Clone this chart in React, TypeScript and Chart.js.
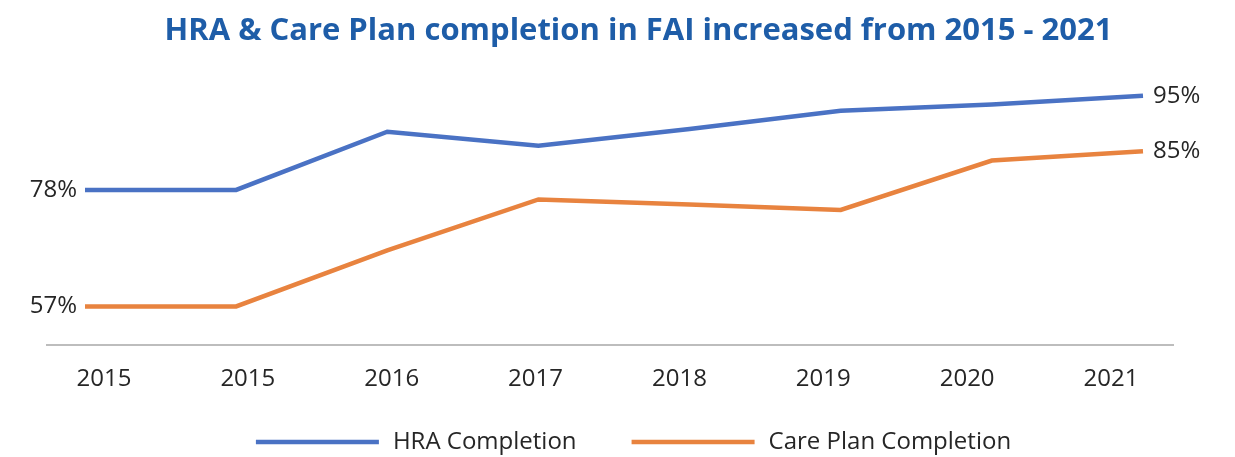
import React, { useEffect, useRef } from "react";
import { Chart, registerables } from "chart.js";

Chart.register(...registerables);

// ---- data ----
const categories = ["2015", "2015", "2016", "2017", "2018", "2019", "2020", "2021"];
const hraCompletion = [78, 78, 88.5, 86, 89, 92.3, 93.4, 95];
const carePlanCompletion = [57, 57, 67.1, 76.3, 75.4, 74.4, 83.3, 85];
const seriesNames = ["HRA Completion", "Care Plan Completion"];
const labeledIndexes = [0, 7];
const titleText = "HRA & Care Plan completion in FAI increased from 2015 - 2021";

const FONT = "'Open Sans', 'Noto Sans', sans-serif";
const TEXT_COLOR = "#262626";

const titlePlugin = {
  id: "chartHeading",
  afterDraw(chart: any) {
    const ctx = chart.ctx;
    ctx.save();
    ctx.font = `bold 31px ${FONT}`;
    ctx.fillStyle = "#1E5DA8";
    ctx.textAlign = "center";
    ctx.textBaseline = "middle";
    ctx.fillText(titleText, chart.width / 2 + 21, 31);
    ctx.restore();
  },
};

const dataLabelPlugin = {
  id: "endLabels",
  afterDatasetsDraw(chart: any) {
    const ctx = chart.ctx;
    ctx.save();
    ctx.font = `24px ${FONT}`;
    ctx.fillStyle = TEXT_COLOR;
    ctx.textBaseline = "middle";
    chart.data.datasets.forEach((ds: any, di: number) => {
      const meta = chart.getDatasetMeta(di);
      labeledIndexes.forEach((i) => {
        const pt = meta.data[i];
        if (!pt) return;
        const v = ds.data[i].y;
        const text = `${Math.round(v)}%`;
        if (i === 0) {
          ctx.textAlign = "right";
          ctx.fillText(text, pt.x - 8, pt.y);
        } else {
          ctx.textAlign = "left";
          ctx.fillText(text, pt.x + 10, pt.y);
        }
      });
    });
    ctx.restore();
  },
};

const legendPlugin = {
  id: "bottomLegend",
  afterDraw(chart: any) {
    const ctx = chart.ctx;
    ctx.save();
    ctx.font = `24px ${FONT}`;
    ctx.textBaseline = "middle";
    ctx.textAlign = "left";
    const lineW = 123;
    const gapText = 14;
    const gapItem = 55;
    const items = chart.data.datasets.map((ds: any) => ({
      text: ds.label,
      color: ds.borderColor,
      width: ds.borderWidth,
    }));
    const widths = items.map((it: any) => lineW + gapText + ctx.measureText(it.text).width);
    const total = widths.reduce((a: number, b: number) => a + b, 0) + gapItem * (items.length - 1);
    let x = (chart.width - total) / 2 + 16;
    const y = chart.height - 15;
    items.forEach((it: any, k: number) => {
      ctx.strokeStyle = it.color;
      ctx.lineWidth = it.width;
      ctx.beginPath();
      ctx.moveTo(x, y);
      ctx.lineTo(x + lineW, y);
      ctx.stroke();
      ctx.fillStyle = TEXT_COLOR;
      ctx.fillText(it.text, x + lineW + gapText, y);
      x += widths[k] + gapItem;
    });
    ctx.restore();
  },
};

export default function App() {
  const canvasRef = useRef<HTMLCanvasElement | null>(null);

  useEffect(() => {
    document.body.style.margin = "0";
    const canvas = canvasRef.current;
    if (!canvas) return;
    const chart = new Chart(canvas, {
      type: "line",
      data: {
        datasets: [
          {
            label: seriesNames[0],
            data: hraCompletion.map((v, i) => ({ x: i, y: v })),
            borderColor: "#4A72C4",
            backgroundColor: "#4A72C4",
            borderWidth: 4.5,
            pointRadius: 0,
            tension: 0,
            xAxisID: "xd",
            yAxisID: "y",
          },
          {
            label: seriesNames[1],
            data: carePlanCompletion.map((v, i) => ({ x: i, y: v })),
            borderColor: "#E8833F",
            backgroundColor: "#E8833F",
            borderWidth: 4.5,
            pointRadius: 0,
            tension: 0,
            xAxisID: "xd",
            yAxisID: "y",
          },
        ],
      },
      options: {
        responsive: false,
        animation: false,
        layout: { padding: { left: 47, right: 62, top: 68, bottom: 43 } },
        scales: {
          xd: {
            type: "linear",
            display: false,
            min: -0.2514,
            max: 7.1985,
          },
          x: {
            type: "linear",
            position: "bottom",
            min: -0.396,
            max: 7.431,
            afterBuildTicks: (axis: any) => {
              axis.ticks = categories.map((_, i) => ({ value: i }));
            },
            grid: { display: false, drawTicks: false },
            border: { display: true, color: "#BDBDBD", width: 2 },
            ticks: {
              autoSkip: false,
              maxRotation: 0,
              padding: 20,
              color: TEXT_COLOR,
              font: { family: FONT, size: 24 },
              callback: (v: any) => categories[Number(v)] ?? "",
            },
          },
          y: {
            type: "linear",
            display: false,
            min: 50,
            max: 100,
          },
        },
        plugins: {
          legend: { display: false },
          tooltip: { enabled: false },
          title: { display: false },
        },
      },
      plugins: [titlePlugin, dataLabelPlugin, legendPlugin],
    });
    return () => chart.destroy();
  }, []);

  return (
    <div style={{ width: 1235, height: 457 }}>
      <canvas ref={canvasRef} width={1235} height={457} />
    </div>
  );
}
